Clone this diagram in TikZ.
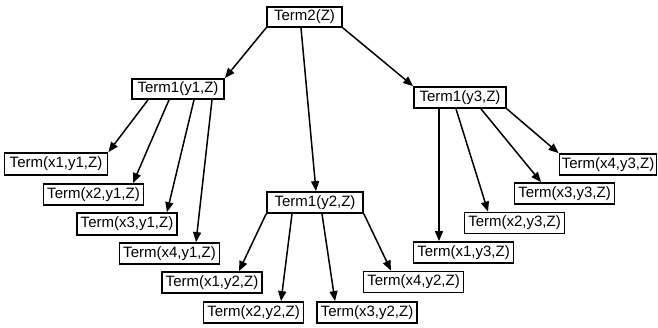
\documentclass[tikz,border=0pt]{standalone}
\usepackage{fontspec}
\setmainfont{Liberation Sans}
\usetikzlibrary{arrows.meta}
\begin{document}
\begin{tikzpicture}[x=1pt,y=-1pt,
  box/.style={draw,line width=1.8pt,inner sep=0pt,minimum height=21pt,font=\fontsize{15}{17}\selectfont},
  term/.style={box,minimum width=100pt},
  edge/.style={line width=1.5pt,-{Triangle[length=10pt,width=8pt]}}]
\useasboundingbox (0,0) rectangle (658,327);
\node[box,minimum width=75pt,minimum height=20pt] (t2) at (304.5,17) {Term2(Z)};
\node[box,minimum width=92pt,minimum height=20pt] (a1) at (178,89) {Term1(y1,Z)};
\node[box,minimum width=96pt] (a2) at (315,202.5) {Term1(y2,Z)};
\node[box,minimum width=92pt] (a3) at (460,97.5) {Term1(y3,Z)};
\node[term,minimum width=103pt,minimum height=22pt] (b11) at (56,164) {Term(x1,y1,Z)};
\node[term] (b21) at (93.5,194.5) {Term(x2,y1,Z)};
\node[term,minimum height=22pt] (b31) at (127,224) {Term(x3,y1,Z)};
\node[term] (b41) at (169.5,253.5) {Term(x4,y1,Z)};
\node[term] (b12) at (212,282.5) {Term(x1,y2,Z)};
\node[term] (b22) at (253.5,312.5) {Term(x2,y2,Z)};
\node[term] (b32) at (367,312.5) {Term(x3,y2,Z)};
\node[term] (b42) at (413.5,282) {Term(x4,y2,Z)};
\node[term] (b13) at (463.5,252.5) {Term(x1,y3,Z)};
\node[term] (b23) at (514.5,223) {Term(x2,y3,Z)};
\node[term] (b33) at (564.5,193.5) {Term(x3,y3,Z)};
\node[term,minimum width=97pt] (b43) at (608,164.5) {Term(x4,y3,Z)};
\draw[edge] (t2.south west) -- (a1.north east);
\draw[edge] ([xshift=-3.5pt]t2.south) -- ([xshift=1pt]a2.north);
\draw[edge] (t2.south east) -- (a3.north west);
\draw[edge] ([xshift=-30pt]a1.south) -- (b11.north east);
\draw[edge] ([xshift=-9pt]a1.south) -- ([xshift=39.5pt]b21.north);
\draw[edge] ([xshift=16pt]a1.south) -- ([xshift=40pt]b31.north);
\draw[edge] ([xshift=34pt]a1.south) -- ([xshift=26.5pt]b41.north);
\draw[edge] (a2.south west) -- ([xshift=27pt]b12.north);
\draw[edge] ([xshift=-23pt]a2.south) -- ([xshift=27.5pt]b22.north);
\draw[edge] ([xshift=7pt]a2.south) -- ([xshift=-32pt]b32.north);
\draw[edge] (a2.south east) -- ([xshift=-22.5pt]b42.north);
\draw[edge] ([xshift=-21pt]a3.south) -- ([xshift=-24.5pt]b13.north);
\draw[edge] ([xshift=-4pt]a3.south) -- ([xshift=-26.5pt]b23.north);
\draw[edge] ([xshift=21pt]a3.south) -- ([xshift=-23.5pt]b33.north);
\draw[edge] (a3.south east) -- (b43.north west);
\end{tikzpicture}
\end{document}
